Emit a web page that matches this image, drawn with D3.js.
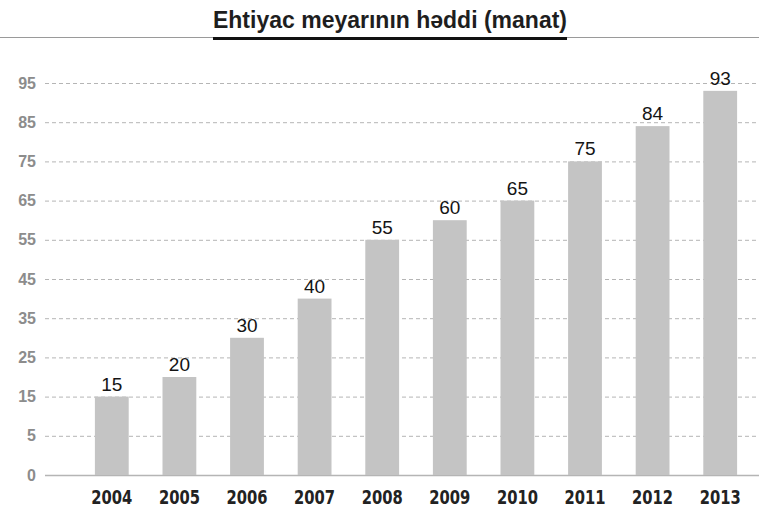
<!DOCTYPE html>
<html>
<head>
<meta charset="utf-8">
<script src="https://cdn.jsdelivr.net/npm/d3@7"></script>
<style>
  body { margin: 0; background: #fff; }
  svg { display: block; }
</style>
</head>
<body>
<svg id="chart"></svg>
<script>
const canWidth = 759;
const canHeight = 511;

const years = ["2004", "2005", "2006", "2007", "2008", "2009", "2010", "2011", "2012", "2013"];
const values = [15, 20, 30, 40, 55, 60, 65, 75, 84, 93];
const yTicks = [0, 5, 15, 25, 35, 45, 55, 65, 75, 85, 95];
const title = "Ehtiyac meyarının həddi (manat)";

const svg = d3.select('#chart').attr('width', canWidth).attr('height', canHeight);

// ticks sit at equal steps even though 0->5 is only 5 units
const ys = d3.scaleLinear()
    .domain(yTicks)
    .range(yTicks.map((d, i) => 475 - i * 39.2));

const xs = d3.scaleBand()
    .domain(years)
    .range([78, 754])
    .paddingInner(0.5)
    .paddingOuter(0.25);

// title + rule under it
const t = svg.append('text')
    .attr('x', 390).attr('y', 28)
    .attr('text-anchor', 'middle')
    .style('font-family', 'Liberation Sans, Arial, sans-serif')
    .style('font-weight', 'bold')
    .style('font-size', '23px')
    .attr('fill', '#1e1e1e')
    .text(title);

svg.append('line')
    .attr('x1', 0).attr('x2', canWidth)
    .attr('y1', 37.5).attr('y2', 37.5)
    .attr('stroke', '#9a9a9a').attr('stroke-width', 1);

const tw = t.node().getComputedTextLength();
svg.append('line')
    .attr('x1', 390 - tw / 2).attr('x2', 390 + tw / 2)
    .attr('y1', 38.5).attr('y2', 38.5)
    .attr('stroke', '#111').attr('stroke-width', 3);

// y axis: dashed grid lines + grey labels
const ya = d3.axisLeft(ys)
    .tickValues(yTicks)
    .tickSize(-(canWidth - 45))
    .tickPadding(9)
    .tickFormat(d3.format('d'));

const yg = svg.append('g')
    .attr('transform', 'translate(45,0)')
    .call(ya);
yg.select('.domain').remove();
yg.selectAll('.tick line')
    .attr('stroke', '#b5b5b5')
    .attr('stroke-dasharray', d => d === 0 ? null : '4,3')
    .attr('stroke-width', d => d === 0 ? 1.5 : 1);
yg.selectAll('.tick text')
    .style('font-family', 'Liberation Sans, Arial, sans-serif')
    .style('font-weight', 'bold')
    .style('font-size', '16px')
    .attr('fill', '#8c8c8c');

// bars
svg.append('g')
    .selectAll('rect')
    .data(values)
    .enter()
    .append('rect')
    .attr('x', (d, i) => xs(years[i]))
    .attr('y', d => ys(d))
    .attr('width', xs.bandwidth())
    .attr('height', d => ys(0) - ys(d))
    .attr('fill', '#c4c4c4');

// value labels
svg.append('g')
    .selectAll('text')
    .data(values)
    .enter()
    .append('text')
    .attr('x', (d, i) => xs(years[i]) + xs.bandwidth() / 2)
    .attr('y', d => ys(d) - 6)
    .attr('text-anchor', 'middle')
    .style('font-family', 'Liberation Sans, Arial, sans-serif')
    .style('font-size', '19px')
    .attr('fill', '#141414')
    .text(d => d);

// x axis labels, squeezed sideways to look condensed
const xa = d3.axisBottom(xs).tickSize(0).tickPadding(15);
const xg = svg.append('g')
    .attr('transform', 'translate(0,475)')
    .call(xa);
xg.select('.domain').remove();
xg.selectAll('.tick text')
    .attr('transform', 'scale(0.82,1)')
    .style('font-family', 'DejaVu Sans Condensed, sans-serif')
    .style('font-weight', 'bold')
    .style('font-size', '20px')
    .attr('fill', '#222');
</script>
</body>
</html>
